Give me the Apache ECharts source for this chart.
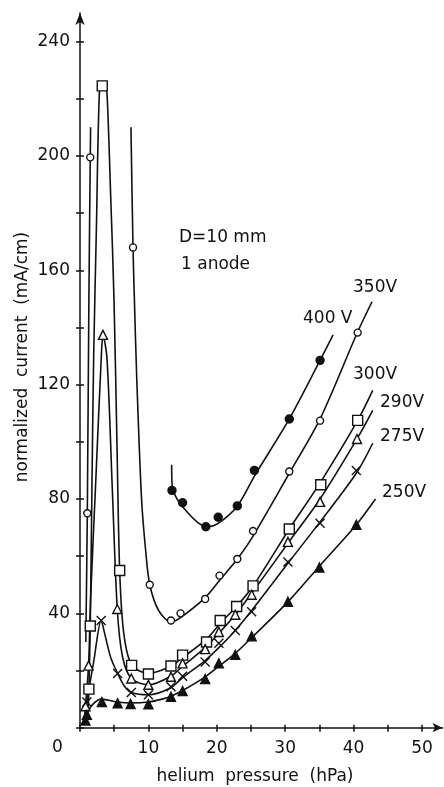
<!DOCTYPE html>
<html>
<head>
<meta charset="utf-8">
<script src="https://cdn.jsdelivr.net/npm/echarts@6/dist/echarts.min.js"></script>
<style>
  html, body { margin: 0; padding: 0; background: #fff; }
  #chart { width: 444px; height: 787px; }
</style>
</head>
<body>
<div id="chart"></div>
<script>
// axis ticks and labels
const xTicks = [0, 5, 10, 15, 20, 25, 30, 35, 40, 45, 50];
const xLabels = [10, 20, 30, 40, 50];
const yTicks = [0, 20, 40, 60, 80, 100, 120, 140, 160, 180, 200, 220, 240];
const yLabels = [40, 80, 120, 160, 200, 240];

// measured points (markers), [pressure hPa, current mA/cm]
const m400 = [[13.45, 83], [15, 78.7], [18.4, 70.3], [20.2, 73.6], [23, 77.6], [25.5, 90], [30.6, 108], [35.1, 128.5]];
const m350 = [[1.07, 75], [1.5, 199.5], [7.75, 168], [10.2, 50], [13.3, 37.5], [14.7, 40], [18.3, 45], [20.4, 53.2],
  [23, 59], [25.3, 68.8], [30.6, 89.6], [35.1, 107.4], [40.6, 138.2]];
const m300 = [[1.3, 13.5], [1.5, 35.6], [3.25, 224.5], [5.8, 55], [7.55, 21.8], [10, 18.8], [13.3, 21.6], [15, 25.4],
  [18.5, 30], [20.5, 37.5], [22.9, 42.4], [25.3, 49.6], [30.6, 69.5], [35.2, 85], [40.6, 107.5]];
const m290 = [[0.8, 7.5], [1.25, 21.7], [3.36, 137.4], [5.45, 41.5], [7.5, 17.2], [10, 15], [13.3, 17.8], [15, 22.5],
  [18.3, 27.5], [20.3, 33.5], [22.7, 39.5], [25.1, 46.5], [30.4, 65], [35.1, 79], [40.5, 101]];
const m275 = [[1.0, 9], [3.1, 37.5], [5.5, 19], [7.5, 12.3], [10, 11.5], [13.3, 14.3], [15, 18], [18.3, 23],
  [20.3, 29.5], [22.7, 34], [25.1, 40.6], [30.4, 58], [35.1, 71.5], [40.4, 90]];
const m250 = [[0.8, 2.5], [1.0, 4.5], [3.2, 9], [5.5, 8.5], [7.4, 8.3], [10, 8.2], [13.3, 10.8], [15, 12.8],
  [18.3, 17], [20.3, 22.5], [22.7, 25.5], [25.1, 32], [30.4, 44], [35, 56], [40.4, 71]];

// fitted curves
const c400 = [[13.4, 92], [13.5, 84], [14.2, 80], [15.1, 77], [17.1, 72], [18.6, 70.3], [20.2, 71.5], [23, 77.5],
  [25.5, 88], [30.6, 108], [35.1, 128.5], [37, 137.4]];
const c350a = [[0.85, 30], [1.07, 75], [1.3, 150], [1.5, 199.5], [1.55, 210]];
const c350b = [[7.45, 210], [7.75, 168], [7.95, 150], [8.3, 122], [9.0, 80], [9.6, 62], [10.2, 50], [11.5, 41],
  [13.3, 37], [14.7, 38.5], [18.3, 45.5], [20.4, 51.5], [23, 59], [25.3, 67], [30.6, 89], [35.1, 108],
  [40.6, 138.5], [42.7, 149]];
const c300 = [[1.2, 6], [1.3, 13.5], [1.5, 35.6], [1.75, 85], [2.0, 130], [2.4, 175], [2.83, 222], [3.25, 226],
  [3.7, 224], [3.95, 222], [4.5, 185], [4.97, 150], [5.4, 100], [5.8, 55], [6.4, 33], [7.55, 22], [10, 19],
  [13.3, 21.5], [15, 24.5], [18.5, 31], [20.5, 36.5], [22.9, 42.5], [25.3, 49.5], [30.6, 69.5], [35.2, 86],
  [40.6, 107.5], [42.8, 118]];
const c290 = [[0.7, 4], [0.8, 7.5], [1.25, 21.7], [1.55, 45], [2.3, 86], [3.1, 129], [3.36, 137.4], [3.95, 129],
  [4.7, 85], [5.45, 41.5], [6.2, 25], [7.5, 17.2], [10, 15], [13.3, 18], [15, 21.5], [18.3, 28], [20.3, 33],
  [22.7, 39.5], [25.1, 47], [30.4, 64.5], [35.1, 80], [40.5, 101], [42.8, 111]];
const c275 = [[0.8, 5], [1.0, 9], [2.0, 23], [3.1, 37.5], [3.6, 33], [4.5, 24.5], [5.5, 19], [6.5, 14.5],
  [7.5, 12.3], [10, 11.5], [13.3, 14], [15, 17.5], [18.3, 23.5], [20.3, 28], [22.7, 34], [25.1, 41],
  [30.4, 57.5], [35.1, 72], [40.4, 89], [42.8, 99.5]];
const c250 = [[0.7, 1], [1.0, 4.5], [1.8, 8], [3.2, 10], [4.2, 9.6], [5.5, 9], [7.4, 8.7], [10, 9], [12, 10],
  [13.3, 11], [15, 13], [18.3, 17.8], [20.3, 21.5], [22.7, 26], [25.1, 31.5], [30.4, 44], [35, 56.5],
  [40.4, 71], [43.2, 80]];

const FONT = '"DejaVu Sans", sans-serif';
const INK = '#111';

function curve(data) {
  return {
    type: 'line', data: data, showSymbol: false, smooth: 0.3,
    lineStyle: { color: INK, width: 1.6 }, silent: true, animation: false, z: 2
  };
}
function marks(data, symbol, size, filled) {
  return {
    type: 'scatter', data: data, symbol: symbol, symbolSize: size, animation: false, z: 3,
    itemStyle: { color: filled ? INK : '#fff', borderColor: INK, borderWidth: 1.4, opacity: 1 }
  };
}
const cross = 'path://M0,0L10,10M10,0L0,10';

function txt(text, x, y) {
  return { type: 'text', x: x, y: y,
    style: { text: text, font: '17px ' + FONT, fill: INK, textAlign: 'left', textVerticalAlign: 'middle' } };
}

const chart = echarts.init(document.getElementById('chart'));
chart.setOption({
  backgroundColor: '#fff',
  animation: false,
  grid: { left: 80, right: 1.5, top: 13, bottom: 59.3 },
  xAxis: [{
    type: 'value', min: 0, max: 53,
    axisLine: { lineStyle: { color: INK, width: 1.5 }, symbol: ['none', 'arrow'], symbolSize: [7, 10] },
    axisTick: { customValues: xTicks, length: 4, lineStyle: { color: INK, width: 1.5 } },
    axisLabel: { customValues: xLabels, margin: 12, color: INK, fontSize: 17, fontFamily: FONT },
    splitLine: { show: false }
  }, {
    type: 'value', min: 0, max: 53, position: 'bottom',
    axisLine: { show: false },
    axisTick: { customValues: xTicks, inside: true, length: 3, lineStyle: { color: INK, width: 1.5 } },
    axisLabel: { show: false }, splitLine: { show: false }
  }],
  yAxis: [{
    type: 'value', min: 0, max: 250,
    axisLine: { lineStyle: { color: INK, width: 1.5 }, symbol: ['none', 'arrow'], symbolSize: [7, 12] },
    axisTick: { customValues: yTicks, length: 4, lineStyle: { color: INK, width: 1.5 } },
    axisLabel: { customValues: yLabels, margin: 10, color: INK, fontSize: 17, fontFamily: FONT },
    splitLine: { show: false }
  }, {
    type: 'value', min: 0, max: 250, position: 'left',
    axisLine: { show: false },
    axisTick: { customValues: yTicks, inside: true, length: 4, lineStyle: { color: INK, width: 1.5 } },
    axisLabel: { show: false }, splitLine: { show: false }
  }],
  series: [
    curve(c400), curve(c350a), curve(c350b), curve(c300), curve(c290), curve(c275), curve(c250),
    marks(m400, 'circle', 8, true),
    marks(m350, 'circle', 7, false),
    marks(m300, 'rect', 10, false),
    marks(m290, 'triangle', 9, false),
    marks(m275, cross, 9, false),
    marks(m250, 'triangle', 9, true)
  ],
  graphic: [
    txt('0', 52, 748),
    txt('D=10 mm', 179, 238),
    txt('1 anode', 181, 265),
    txt('350V', 353, 288),
    txt('400 V', 303, 319),
    txt('300V', 353, 375),
    txt('290V', 380, 403),
    txt('275V', 380, 437),
    txt('250V', 382, 493),
    { type: 'text', x: 255, y: 777,
      style: { text: 'helium  pressure  (hPa)', font: '17px ' + FONT, fill: INK, textAlign: 'center', textVerticalAlign: 'middle' } },
    { type: 'text', x: 23, y: 357, rotation: Math.PI / 2,
      style: { text: 'normalized  current  (mA/cm)', font: '17px ' + FONT, fill: INK, textAlign: 'center', textVerticalAlign: 'middle' } }
  ]
});
</script>
</body>
</html>
